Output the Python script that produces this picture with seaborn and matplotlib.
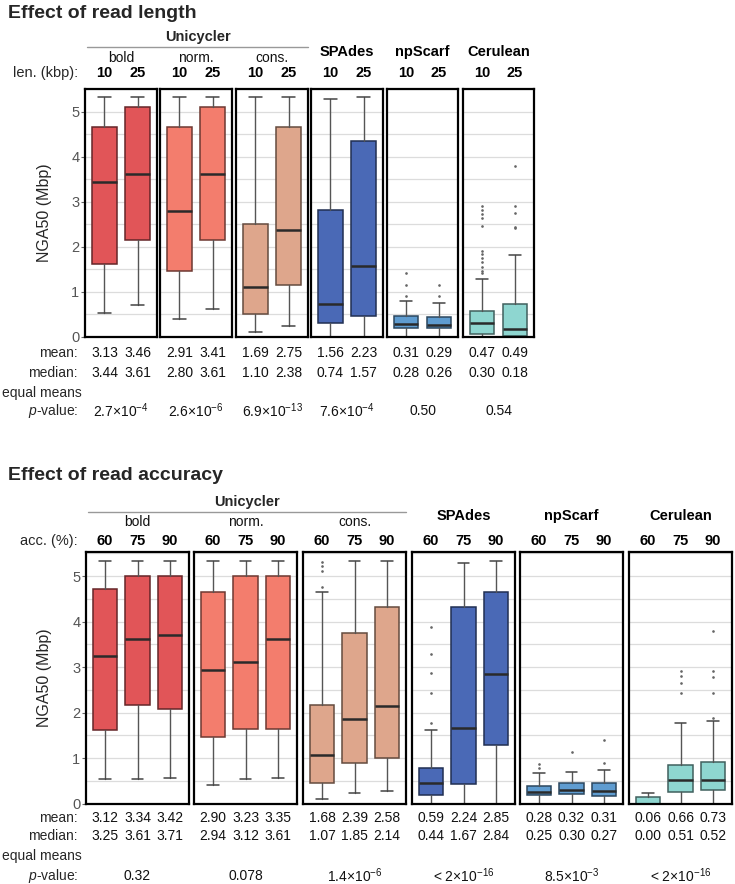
import numpy as np
import matplotlib
matplotlib.use("Agg")
import matplotlib.pyplot as plt
import matplotlib.colors as mcolors
from matplotlib.transforms import blended_transform_factory
import seaborn as sns

sns.set_theme(style="white")
plt.rcParams["font.family"] = ["Liberation Sans", "DejaVu Sans"]
plt.rcParams["mathtext.fontset"] = "custom"
plt.rcParams["mathtext.rm"] = "Liberation Sans"
plt.rcParams["mathtext.it"] = "Liberation Sans:italic"
plt.rcParams["mathtext.default"] = "regular"

W, H = 735, 884

# groups / colours
tools = ["bold", "norm.", "cons.", "SPAdes", "npScarf", "Cerulean"]
tool_colors = ["#E15558", "#F37D6D", "#DEA68C", "#4A69B6", "#5F9CD0", "#8ED6D0"]

# ---- effect of read length ----
len_labels = ["10", "25"]
len_q1 = [1.62, 2.16, 1.47, 2.16, 0.52, 1.16, 0.30, 0.46, 0.21, 0.19, 0.06, 0.02]
len_q3 = [4.65, 5.10, 4.65, 5.10, 2.51, 4.65, 2.82, 4.35, 0.46, 0.44, 0.58, 0.74]
len_lo = [0.54, 0.71, 0.41, 0.61, 0.12, 0.25, 0.0, 0.0, 0.0, 0.0, 0.0, 0.0]
len_hi = [5.32, 5.32, 5.32, 5.32, 5.32, 5.32, 5.28, 5.32, 0.79, 0.75, 1.28, 1.81]
len_fliers = [[], [], [], [], [], [], [], [],
              [1.41, 1.15, 0.90], [1.15, 0.90],
              [2.90, 2.81, 2.72, 2.63, 2.47, 1.90, 1.83, 1.76, 1.66, 1.56, 1.47, 1.41],
              [3.79, 2.90, 2.76, 2.45, 2.41]]
len_mean = [3.13, 3.46, 2.91, 3.41, 1.69, 2.75, 1.56, 2.23, 0.31, 0.29, 0.47, 0.49]
len_median = [3.44, 3.61, 2.80, 3.61, 1.10, 2.38, 0.74, 1.57, 0.28, 0.26, 0.30, 0.18]
len_pvalues = ["2.7×10$^{-4}$", "2.6×10$^{-6}$", "6.9×10$^{-13}$",
               "7.6×10$^{-4}$", "0.50", "0.54"]

# ---- effect of read accuracy ----
acc_labels = ["60", "75", "90"]
acc_q1 = [1.62, 2.16, 2.07, 1.46, 1.64, 1.64, 0.46, 0.88, 0.99,
          0.19, 0.42, 1.29, 0.18, 0.20, 0.17, 0.0, 0.25, 0.30]
acc_q3 = [4.71, 5.01, 5.01, 4.66, 5.01, 5.01, 2.16, 3.75, 4.33,
          0.77, 4.33, 4.66, 0.38, 0.46, 0.44, 0.14, 0.85, 0.92]
acc_lo = [0.54, 0.54, 0.57, 0.40, 0.54, 0.57, 0.09, 0.22, 0.27,
          0.0, 0.0, 0.0, 0.0, 0.0, 0.0, 0.0, 0.0, 0.0]
acc_hi = [5.34, 5.34, 5.34, 5.34, 5.34, 5.34, 4.66, 5.34, 5.34,
          1.62, 5.29, 5.34, 0.66, 0.69, 0.73, 0.23, 1.76, 1.81]
acc_fliers = [[], [], [], [], [], [], [5.30, 5.22, 5.12, 4.75], [], [],
              [3.87, 3.28, 2.87, 2.42, 1.76], [], [],
              [0.87, 0.77], [1.14], [1.40, 0.90],
              [], [2.91, 2.81, 2.66, 2.44], [3.80, 2.91, 2.79, 2.44, 1.87]]
acc_mean = [3.12, 3.34, 3.42, 2.90, 3.23, 3.35, 1.68, 2.39, 2.58,
            0.59, 2.24, 2.85, 0.28, 0.32, 0.31, 0.06, 0.66, 0.73]
acc_median = [3.25, 3.61, 3.71, 2.94, 3.12, 3.61, 1.07, 1.85, 2.14,
              0.44, 1.67, 2.84, 0.25, 0.30, 0.27, 0.00, 0.51, 0.52]
acc_pvalues = ["0.32", "0.078", "1.4×10$^{-6}$", "< 2×10$^{-16}$",
               "8.5×10$^{-3}$", "< 2×10$^{-16}$"]

fig = plt.figure(figsize=(W / 100, H / 100), dpi=100)

FS = 10


def fy(y):
    return 1 - y / H


def fx(x):
    return x / W


def section(title, y_title, labels, q1, q3, lo, hi, fliers, means, medians, pvals,
            panels_x, y_top, y_bot, ymax, rows_y, head_y, xlabel):
    n = len(labels)
    for k, (x0, x1) in enumerate(panels_x):
        ax = fig.add_axes([fx(x0), fy(y_bot), fx(x1 - x0), (y_bot - y_top) / H])
        stats = []
        for j in range(n):
            i = k * n + j
            stats.append(dict(med=medians[i], q1=q1[i], q3=q3[i], whislo=lo[i],
                              whishi=hi[i], fliers=fliers[i]))
        face = tool_colors[k]
        edge = tuple(np.array(mcolors.to_rgb(face)) * 0.45)
        ax.bxp(stats, positions=range(n), widths=0.75, capwidths=0.37,
               patch_artist=True, showfliers=True,
               boxprops=dict(facecolor=face, edgecolor=edge, linewidth=1.1),
               medianprops=dict(color="#2a2a2a", linewidth=1.8),
               whiskerprops=dict(color="#555555", linewidth=1.0),
               capprops=dict(color="#444444", linewidth=1.1),
               flierprops=dict(marker="o", markersize=0.9, markerfacecolor="#666666",
                               markeredgecolor="#666666", linestyle="none"))
        ax.set_xlim(-0.59, n - 1 + 0.59)
        ax.set_ylim(0, ymax)
        ax.set_yticks(np.arange(0, 6, 1))
        ax.set_yticks(np.arange(0.5, 5.6, 1), minor=True)
        ax.grid(True, which="both", axis="y", color="#dcdcdc", linewidth=0.9)
        ax.set_axisbelow(True)
        ax.set_xticks([])
        for s in ax.spines.values():
            s.set_color("black")
            s.set_linewidth(1.6)
        if k == 0:
            ax.tick_params(axis="y", which="major", left=True, length=3, width=0.8,
                           color="#666666", labelsize=10.5, labelcolor="#555555", pad=1)
            ax.tick_params(axis="y", which="minor", left=False)
        else:
            ax.set_yticklabels([])
            ax.tick_params(axis="y", which="both", left=False)

        tr = blended_transform_factory(ax.transData, fig.transFigure)
        for j in range(n):
            i = k * n + j
            ax.text(j, fy(head_y[2]), labels[j], transform=tr, ha="center", va="center",
                    fontsize=10.5, fontweight="bold", color="black")
            ax.text(j, fy(rows_y[0]), f"{means[i]:.2f}", transform=tr, ha="center",
                    va="center", fontsize=FS, color="#111111")
            ax.text(j, fy(rows_y[1]), f"{medians[i]:.2f}", transform=tr, ha="center",
                    va="center", fontsize=FS, color="#111111")
        mid = (n - 1) / 2
        ax.text(mid, fy(rows_y[3]), pvals[k], transform=tr, ha="center", va="center",
                fontsize=FS, color="#111111")
        if k < 3:
            ax.text(mid, fy(head_y[1]), tools[k], transform=tr, ha="center",
                    va="center", fontsize=FS, color="#111111")
        else:
            ax.text(mid, fy(head_y[1] - 6), tools[k], transform=tr, ha="center",
                    va="center", fontsize=10.5, fontweight="bold", color="black")

    # Unicycler header with rule
    ux0, ux1 = panels_x[0][0] + 2, panels_x[2][1]
    fig.text(fx((ux0 + ux1) / 2), fy(head_y[0]), "Unicycler", ha="center", va="center",
             fontsize=10.5, fontweight="bold")
    fig.add_artist(plt.Line2D([fx(ux0), fx(ux1)], [fy(head_y[0] + 10)] * 2,
                              color="#999999", linewidth=1.0))

    fig.text(fx(8), fy(y_title), title, ha="left", va="center", fontsize=14,
             fontweight="bold")
    fig.text(fx(78), fy(head_y[2]), xlabel, ha="right", va="center", fontsize=10.5)
    fig.text(fx(45), fy((y_top + y_bot) / 2), "NGA50 (Mbp)", rotation=90,
             ha="center", va="center", fontsize=11.5)
    fig.text(fx(78), fy(rows_y[0]), "mean:", ha="right", va="center", fontsize=FS)
    fig.text(fx(78), fy(rows_y[1]), "median:", ha="right", va="center", fontsize=FS)
    fig.text(fx(2), fy(rows_y[2]), "equal means", ha="left", va="center", fontsize=FS)
    fig.text(fx(78), fy(rows_y[3]), "$\\it{p}$-value:", ha="right", va="center",
             fontsize=FS)


section("Effect of read length", 13, len_labels, len_q1, len_q3, len_lo, len_hi,
        len_fliers, len_mean, len_median, len_pvalues,
        [(85, 157), (160, 232), (236, 308), (311, 383), (387, 458), (463, 534)],
        89, 337, 5.43, [353, 373, 393, 411], [37, 58, 73], "len. (kbp):")

section("Effect of read accuracy", 476, acc_labels, acc_q1, acc_q3, acc_lo, acc_hi,
        acc_fliers, acc_mean, acc_median, acc_pvalues,
        [(86, 189), (194, 297), (303, 406), (412, 515), (520, 623), (629, 732)],
        552, 803.5, 5.53, [818, 836, 856, 876], [502, 522, 541], "acc. (%):")

fig.savefig("out.png", dpi=100)
